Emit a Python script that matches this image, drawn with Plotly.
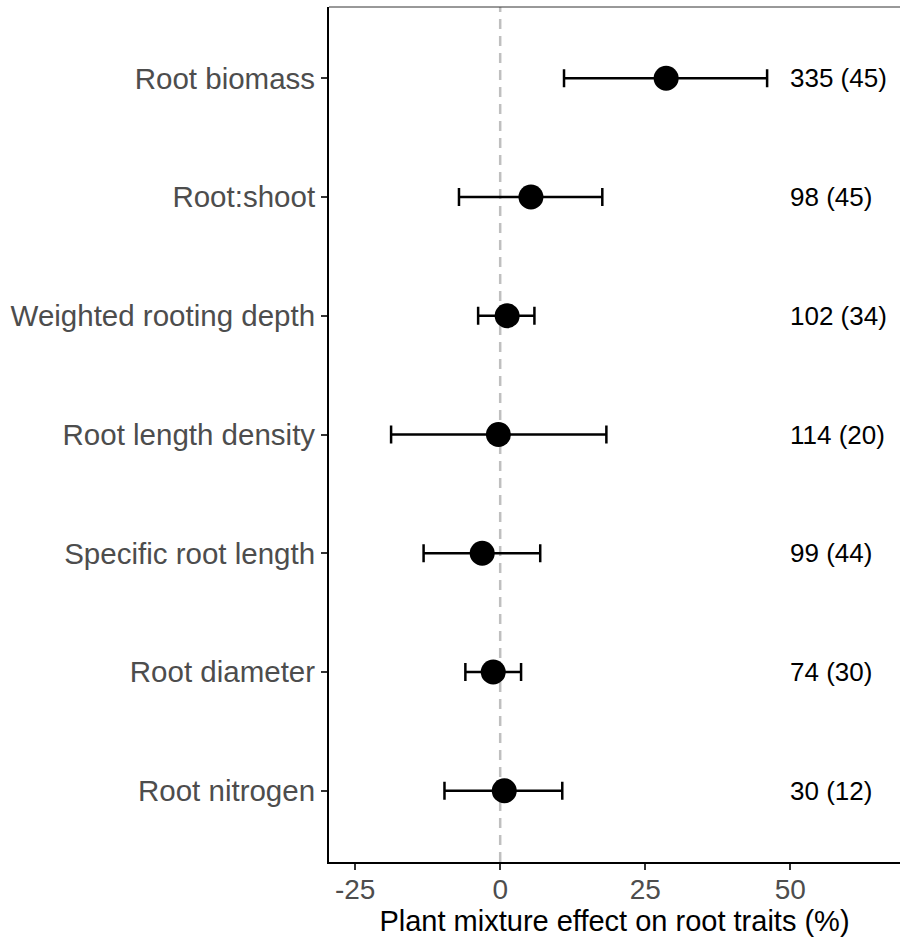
import plotly.graph_objects as go

# Root trait effects of plant mixtures (percent change, with 95% CI)
traits = ["Root biomass", "Root:shoot", "Weighted rooting depth",
          "Root length density", "Specific root length", "Root diameter",
          "Root nitrogen"]
effect = [28.6, 5.3, 1.2, -0.3, -3.1, -1.2, 0.7]
ci_low = [11.0, -7.1, -3.8, -18.8, -13.2, -6.0, -9.6]
ci_high = [46.0, 17.6, 5.9, 18.3, 6.9, 3.6, 10.7]
n_labels = ["335 (45)", "98 (45)", "102 (34)", "114 (20)", "99 (44)",
            "74 (30)", "30 (12)"]
label_x = 50

err_plus = [h - e for h, e in zip(ci_high, effect)]
err_minus = [e - l for e, l in zip(effect, ci_low)]

fig = go.Figure()

fig.add_trace(go.Scatter(
    x=effect, y=traits, mode="markers",
    marker=dict(color="black", size=25, line=dict(width=0)),
    error_x=dict(type="data", symmetric=False, array=err_plus,
                 arrayminus=err_minus, color="black", thickness=2.5, width=9),
    showlegend=False, hoverinfo="skip",
))

for t, lab in zip(traits, n_labels):
    fig.add_annotation(x=label_x, y=t, xref="x", yref="y", text=lab,
                       showarrow=False, xanchor="left", yanchor="middle",
                       xshift=-2,
                       font=dict(family="Liberation Sans, Arial", size=26,
                                 color="black"))

# dashed reference line at zero effect
fig.add_shape(type="line", xref="x", yref="paper", x0=0, x1=0, y0=0, y1=1,
              line=dict(color="#bfbfbf", width=2.5, dash="10px,7px"),
              layer="below")
# thin top border of the panel
fig.add_shape(type="line", xref="paper", yref="paper", x0=0, x1=1, y0=1, y1=1,
              line=dict(color="#333333", width=1))

fig.update_layout(
    width=900, height=941,
    margin=dict(l=329, r=0, t=7, b=79),
    plot_bgcolor="white", paper_bgcolor="white",
    font=dict(family="Liberation Sans, Arial"),
)
fig.update_xaxes(
    range=[-29.5, 68.9], tickvals=[-25, 0, 25, 50],
    ticktext=["-25", "0", "25", "50"],
    showgrid=False, zeroline=False,
    showline=True, linecolor="black", linewidth=2,
    ticks="outside", ticklen=6, tickwidth=2, tickcolor="#333333",
    ticklabelstandoff=-5,
    tickfont=dict(size=28, color="#4d4d4d"),
    title=dict(text="Plant mixture effect on root traits (%)",
               font=dict(size=29, color="black"), standoff=0),
)
fig.update_yaxes(
    categoryorder="array", categoryarray=traits[::-1],
    range=[-0.6, 6.6],
    showgrid=False, zeroline=False,
    showline=True, linecolor="black", linewidth=2,
    ticks="outside", ticklen=6, tickwidth=2, tickcolor="#333333",
    tickfont=dict(size=29.5, color="#4d4d4d"),
)

fig.write_html("out.html")
